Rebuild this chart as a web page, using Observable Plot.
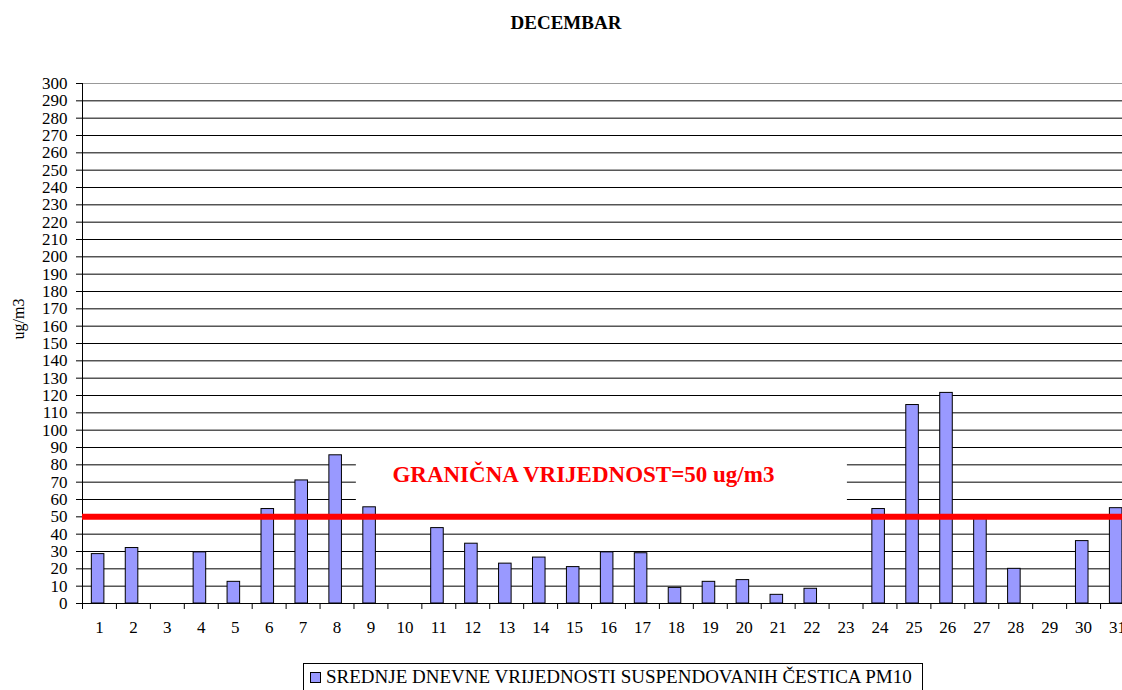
<!DOCTYPE html>
<html>
<head>
<meta charset="utf-8">
<script src="https://cdn.jsdelivr.net/npm/d3@7"></script>
<script src="https://cdn.jsdelivr.net/npm/@observablehq/plot@0.6"></script>
<style>
  html, body { margin: 0; padding: 0; background: #fff; overflow: hidden; }
  body { width: 1122px; height: 690px; position: relative; font-family: "Liberation Serif", "Times New Roman", serif; }
  #title { height: 45px; line-height: 45px; text-align: center; font-weight: bold; font-size: 19px; padding-left: 10px; color: #000; }
  #chart svg { display: block; overflow: hidden; }
  #legend { position: absolute; left: 303px; top: 663px; width: 620px; height: 28px; box-sizing: border-box;
            border: 1px solid #000; display: flex; align-items: center; padding-left: 6px; font-size: 19px; color: #000; white-space: nowrap; }
  #legend .sw { display: inline-block; width: 9px; height: 9px; background: #9999ff; border: 1px solid #000; margin-right: 5px; }
</style>
</head>
<body>
<div id="title">DECEMBAR</div>
<div id="chart"></div>
<div id="legend"><span class="sw"></span>SREDNJE DNEVNE VRIJEDNOSTI SUSPENDOVANIH ČESTICA PM10</div>
<script>
// Data
const days = [1,2,3,4,5,6,7,8,9,10,11,12,13,14,15,16,17,18,19,20,21,22,23,24,25,26,27,28,29,30,31];
const pm10 = [28.5,32,null,29.5,12.5,54.5,71,85.5,55.5,null,43.5,34.5,23,26.5,21,29.5,29,9,12.5,13.5,5,8.5,null,54.5,114.5,121.5,49,20,null,36,55];
const yTicks = [0,10,20,30,40,50,60,70,80,90,100,110,120,130,140,150,160,170,180,190,200,210,220,230,240,250,260,270,280,290,300];
const limitValue = 50;
const limitLabel = "GRANIČNA VRIJEDNOST=50 ug/m3";
const yLabel = "ug/m3";
// label annotation (in data units: day, ug/m3)
const labelPos = {day: 15.26, value: 74.4};
const labelBox = {day1: 8.57, day2: 23.04, v1: 53, v2: 88};

const data = days.map((d, i) => ({day: d, value: pm10[i]})).filter(d => d.value != null);
const boundaries = [0, ...days].map(d => d + 0.5);
const grid = yTicks.filter(v => v > 0 && v < 300);

const chart = Plot.plot({
  width: 1122,
  height: 608,
  marginTop: 38,
  marginBottom: 50,
  marginLeft: 82,
  marginRight: 0,
  style: {fontFamily: "'Liberation Serif', 'Times New Roman', serif", fontSize: "17px", color: "#000", background: "transparent", overflow: "hidden"},
  x: {domain: [0.5, 31.5], range: [82, 1134], ticks: boundaries, tickFormat: () => "", tickSize: 6, label: null},
  y: {domain: [0, 300], ticks: yTicks, tickSize: 6, tickPadding: 9, label: null},
  marks: [
    Plot.ruleY(grid, {stroke: "#000", strokeWidth: 1}),
    Plot.ruleY([300], {stroke: "#999", strokeWidth: 1}),
    Plot.rect([labelBox], {x1: "day1", x2: "day2", y1: "v1", y2: "v2", fill: "#fff"}),
    Plot.rect(data, {x1: d => d.day - 0.225, x2: d => d.day + 0.145, y1: 0, y2: "value", fill: "#9999ff", stroke: "#000", strokeWidth: 1}),
    Plot.ruleX([0.5], {stroke: "#000"}),
    Plot.ruleY([0], {stroke: "#000"}),
    Plot.ruleY([limitValue], {stroke: "#ff0000", strokeWidth: 6}),
    Plot.text([labelPos], {x: "day", y: "value", text: () => limitLabel, fill: "#ff0000", fontWeight: "bold", fontSize: 23}),
    Plot.text(days, {x: d => d, frameAnchor: "bottom", dy: 29, text: d => String(d)}),
    Plot.text([yLabel], {frameAnchor: "left", dx: -64, dy: -4, rotate: -90, fontSize: 16})
  ]
});
document.getElementById("chart").appendChild(chart);
</script>
</body>
</html>
